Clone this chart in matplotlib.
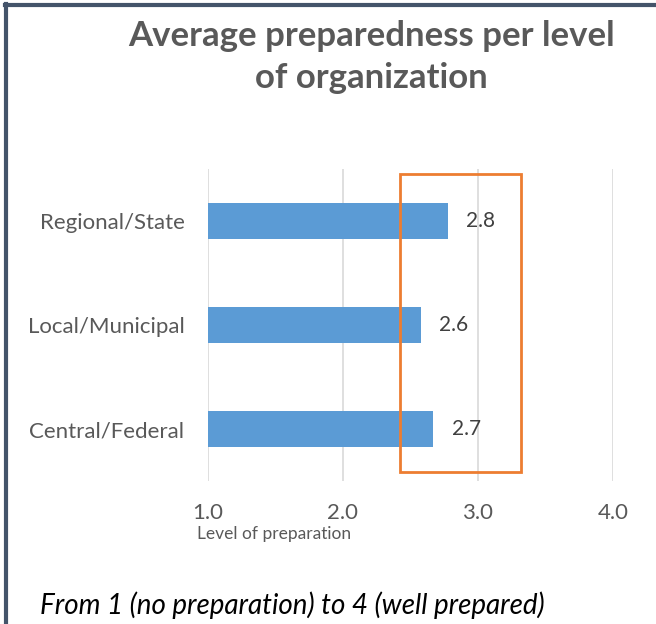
import numpy as np
import matplotlib.pyplot as plt
from matplotlib.patches import Rectangle
from matplotlib.lines import Line2D

# data (bottom to top)
levels = ["Central/Federal", "Local/Municipal", "Regional/State"]
scores = [2.67, 2.58, 2.78]
score_labels = ["2.7", "2.6", "2.8"]
ticks = [1.0, 2.0, 3.0, 4.0]

plt.rcParams['font.family'] = ['Lato', 'DejaVu Sans']

W, H = 656, 624
fig = plt.figure(figsize=(W / 100, H / 100), dpi=100)

# axes box in pixels: x 208..613, y 169..481 (from top)
ax = fig.add_axes([208 / W, 1 - 481 / H, (613 - 208) / W, (481 - 169) / H])

y = np.arange(len(levels))
ax.barh(y, np.array(scores) - 1, left=1, height=0.35, color='#5B9BD5', zorder=3)
for yi, v, lab in zip(y, scores, score_labels):
    ax.annotate(lab, (v, yi), xytext=(13, 0), textcoords='offset points',
                va='center', ha='left', fontsize=15, color='#404040')

ax.set_xlim(1, 4)
ax.set_ylim(-0.5, len(levels) - 0.5)
ax.set_xticks(ticks)
ax.set_xticklabels([f"{t:.1f}" for t in ticks], fontsize=16, color='#595959')
ax.set_yticks(y)
ax.set_yticklabels(levels, fontsize=16, color='#595959')
ax.tick_params(length=0)
ax.tick_params(axis='y', pad=17)
ax.tick_params(axis='x', pad=16)
ax.grid(axis='x', color='#D9D9D9', linewidth=1.2, zorder=0)
for s in ax.spines.values():
    s.set_visible(False)

# orange highlight box
ax.add_patch(Rectangle((2.42, -0.41), 0.90, 2.86, fill=False, edgecolor='#ED7D31',
                       linewidth=2, clip_on=False, zorder=4))

fig.text(371 / W, 1 - 57 / H, "Average preparedness per level\nof organization",
         ha='center', va='center', fontsize=25, fontweight='bold', color='#595959',
         linespacing=1.4)
fig.text(274 / W, 1 - 534 / H, "Level of preparation", ha='center', va='center',
         fontsize=12.5, color='#595959')
fig.text(40 / W, 1 - 605 / H, "From 1 (no preparation) to 4 (well prepared)",
         ha='left', va='center', fontsize=20, style='italic', color='black')

# frame lines on left and top
fig.add_artist(Line2D([6 / W, 6 / W], [0, 1 - 4 / H], color='#44546A', linewidth=3,
                      transform=fig.transFigure))
fig.add_artist(Line2D([5 / W, 1], [1 - 4.5 / H, 1 - 4.5 / H], color='#44546A', linewidth=3,
                      transform=fig.transFigure))

fig.savefig("out.png", dpi=100)
